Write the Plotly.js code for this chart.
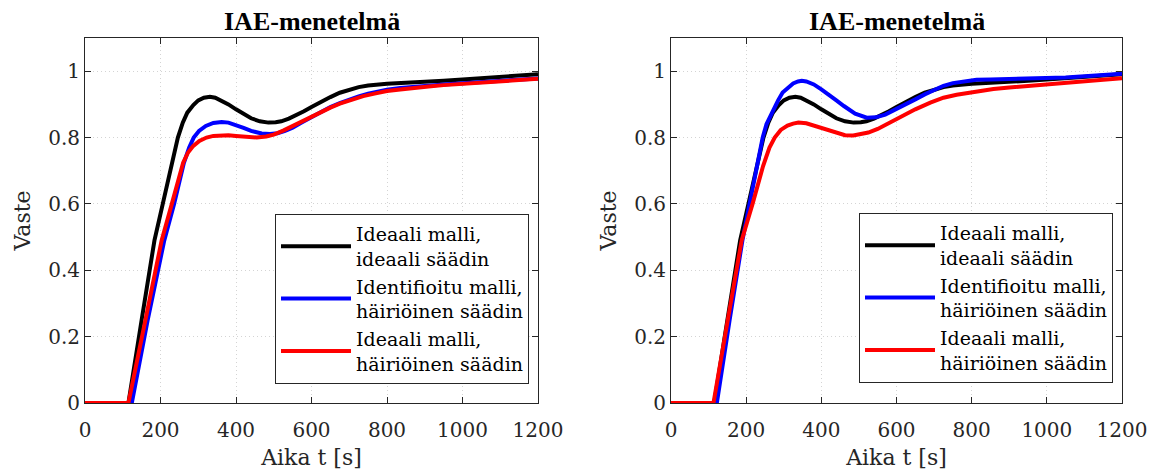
<!DOCTYPE html>
<html>
<head>
<meta charset="utf-8">
<script src="https://cdn.plot.ly/plotly-3.0.1.min.js"></script>
<style>html,body{margin:0;padding:0;background:#fff}#chart{width:1156px;height:474px}</style>
</head>
<body>
<div id="chart"></div>
<script>
// ---- Data ----
const titleText = "IAE-menetelmä";
const xLabel = "Aika t [s]";
const yLabel = "Vaste";
const seriesNames = ["Ideaali malli,<br>ideaali säädin", "Identifioitu malli,<br>häiriöinen säädin", "Ideaali malli,<br>häiriöinen säädin"];
const seriesColors = ["#000000", "#0000ff", "#ff0000"];

// Ideal model, ideal controller (same in both panels)
const tBlack = [0,115,150,184,206,226,246,259,271,287,300,315,331,345,360,380,400,420,440,463,486,505,520,540,560,580,600,625,650,675,700,725,750,775,800,850,900,950,1000,1050,1100,1150,1200];
const yBlack = [0,0,0.25,0.49,0.6,0.7,0.8,0.845,0.875,0.898,0.912,0.92,0.923,0.92,0.912,0.9,0.885,0.87,0.858,0.849,0.845,0.846,0.849,0.857,0.867,0.879,0.892,0.908,0.922,0.935,0.945,0.952,0.957,0.96,0.962,0.965,0.967,0.971,0.975,0.979,0.983,0.987,0.991];

// Left panel
const tBlueL = [0,124,166,210,236,248,262,276,288,302,320,340,362,380,400,420,440,468,490,510,530,550,575,605,630,650,675,700,725,750,775,800,835,870,910,950,1000,1050,1100,1150,1200];
const yBlueL = [0,0,0.25,0.49,0.6,0.66,0.724,0.77,0.8,0.82,0.835,0.844,0.847,0.845,0.838,0.829,0.82,0.812,0.811,0.813,0.82,0.83,0.846,0.865,0.88,0.892,0.904,0.915,0.924,0.932,0.938,0.944,0.949,0.953,0.957,0.96,0.964,0.968,0.972,0.975,0.978];
const tRedL = [0,115,160,203,230,245,260,273,287,303,322,340,358,380,400,425,455,480,500,525,550,575,605,630,650,675,700,737,770,800,835,870,910,950,1000,1050,1100,1150,1200];
const yRedL = [0,0,0.25,0.49,0.6,0.665,0.724,0.755,0.775,0.79,0.8,0.805,0.807,0.807,0.805,0.802,0.8,0.803,0.809,0.821,0.835,0.85,0.865,0.879,0.89,0.902,0.912,0.925,0.933,0.94,0.945,0.95,0.954,0.958,0.962,0.966,0.969,0.973,0.977];

// Right panel
const tBlueR = [0,122,156,190,209,227,244,254,272,285,297,312,325,338,348,360,380,400,420,440,460,490,521,545,570,600,625,650,675,700,725,750,775,813,850,900,950,1000,1050,1100,1150,1200];
const yBlueR = [0,0,0.25,0.49,0.6,0.7,0.8,0.84,0.885,0.912,0.936,0.952,0.963,0.969,0.971,0.969,0.96,0.945,0.93,0.912,0.895,0.872,0.86,0.861,0.869,0.885,0.9,0.915,0.93,0.944,0.956,0.964,0.969,0.974,0.975,0.976,0.977,0.978,0.981,0.985,0.988,0.992];
const tRedR = [0,113,151,188,217,233,245,262,276,292,310,325,339,360,380,400,420,440,463,485,505,525,550,570,592,620,650,690,725,760,800,858,900,950,1000,1050,1100,1150,1200];
const yRedR = [0,0,0.25,0.49,0.6,0.67,0.714,0.77,0.8,0.823,0.836,0.842,0.845,0.843,0.836,0.828,0.82,0.812,0.807,0.806,0.809,0.815,0.826,0.838,0.853,0.868,0.885,0.905,0.92,0.929,0.937,0.946,0.951,0.955,0.959,0.964,0.969,0.974,0.979];

const xTicks = [0,200,400,600,800,1000,1200];
const yTicks = [0,0.2,0.4,0.6,0.8,1];

// ---- Build traces ----
function mk(t, y, i, ax, leg) {
  return {x: t, y: y, type: 'scatter', mode: 'lines', name: seriesNames[i],
    line: {color: seriesColors[i], width: 4}, xaxis: 'x' + ax, yaxis: 'y' + ax,
    legend: leg, showlegend: true};
}
const traces = [
  mk(tBlack, yBlack, 0, '', 'legend'),
  mk(tBlueL, yBlueL, 1, '', 'legend'),
  mk(tRedL, yRedL, 2, '', 'legend'),
  mk(tBlack, yBlack, 0, '2', 'legend2'),
  mk(tBlueR, yBlueR, 1, '2', 'legend2'),
  mk(tRedR, yRedR, 2, '2', 'legend2')
];

const W = 1156, H = 474;
const font = 'DejaVu Serif';
const boldFont = 'Liberation Serif';
function xax(d) {
  return {domain: d, range: [0,1200], tickvals: xTicks, ticks: 'inside', ticklen: 6, tickcolor: '#262626',
    showline: true, linecolor: '#262626', linewidth: 1, mirror: 'ticks', zeroline: false,
    showgrid: true, gridcolor: '#d4d4d4', griddash: '1px,3px', gridwidth: 1,
    ticklabelstandoff: 9,
    tickfont: {family: font, size: 20, color: '#262626'},
    title: {text: xLabel, font: {family: font, size: 22, color: '#262626'}, standoff: 8}};
}
function yax(anchor) {
  return {domain: [(H-403)/H, (H-38)/H], range: [0,1.1], tickvals: yTicks, ticktext: yTicks.map(String),
    ticks: 'inside', ticklen: 6, tickcolor: '#262626', anchor: anchor,
    showline: true, linecolor: '#262626', linewidth: 1, mirror: 'ticks', zeroline: false,
    showgrid: true, gridcolor: '#d4d4d4', griddash: '1px,3px', gridwidth: 1,
    tickfont: {family: font, size: 20, color: '#262626'},
    title: {text: yLabel, font: {family: font, size: 22, color: '#262626'}, standoff: 11}};
}
function leg(x, y) {
  return {x: x, y: y, xanchor: 'left', yanchor: 'top', bgcolor: '#ffffff', bordercolor: '#262626', borderwidth: 1,
    font: {family: font, size: 19, color: '#000000'}, itemwidth: 70, tracegroupgap: 0, itemclick: false};
}
const layout = {
  width: W, height: H, margin: {l: 0, r: 0, t: 0, b: 0}, paper_bgcolor: '#fff', plot_bgcolor: '#fff',
  showlegend: true,
  font: {family: font},
  xaxis: Object.assign(xax([85/W, 538/W]), {anchor: 'y'}),
  yaxis: yax('x'),
  xaxis2: Object.assign(xax([671/W, 1122/W]), {anchor: 'y2'}),
  yaxis2: yax('x2'),
  legend: leg(275/W, (H-214)/H),
  legend2: leg(859/W, (H-213)/H),
  annotations: [
    {text: titleText, xref: 'paper', yref: 'paper', x: (85+538)/2/W, y: (H-21)/H,
     xanchor: 'center', yanchor: 'middle', showarrow: false, font: {family: boldFont, size: 26, color: '#000', weight: 'bold'}},
    {text: titleText, xref: 'paper', yref: 'paper', x: (671+1122)/2/W, y: (H-21)/H,
     xanchor: 'center', yanchor: 'middle', showarrow: false, font: {family: boldFont, size: 26, color: '#000', weight: 'bold'}}
  ]
};
Plotly.newPlot('chart', traces, layout, {displayModeBar: false, staticPlot: true});
</script>
</body>
</html>
